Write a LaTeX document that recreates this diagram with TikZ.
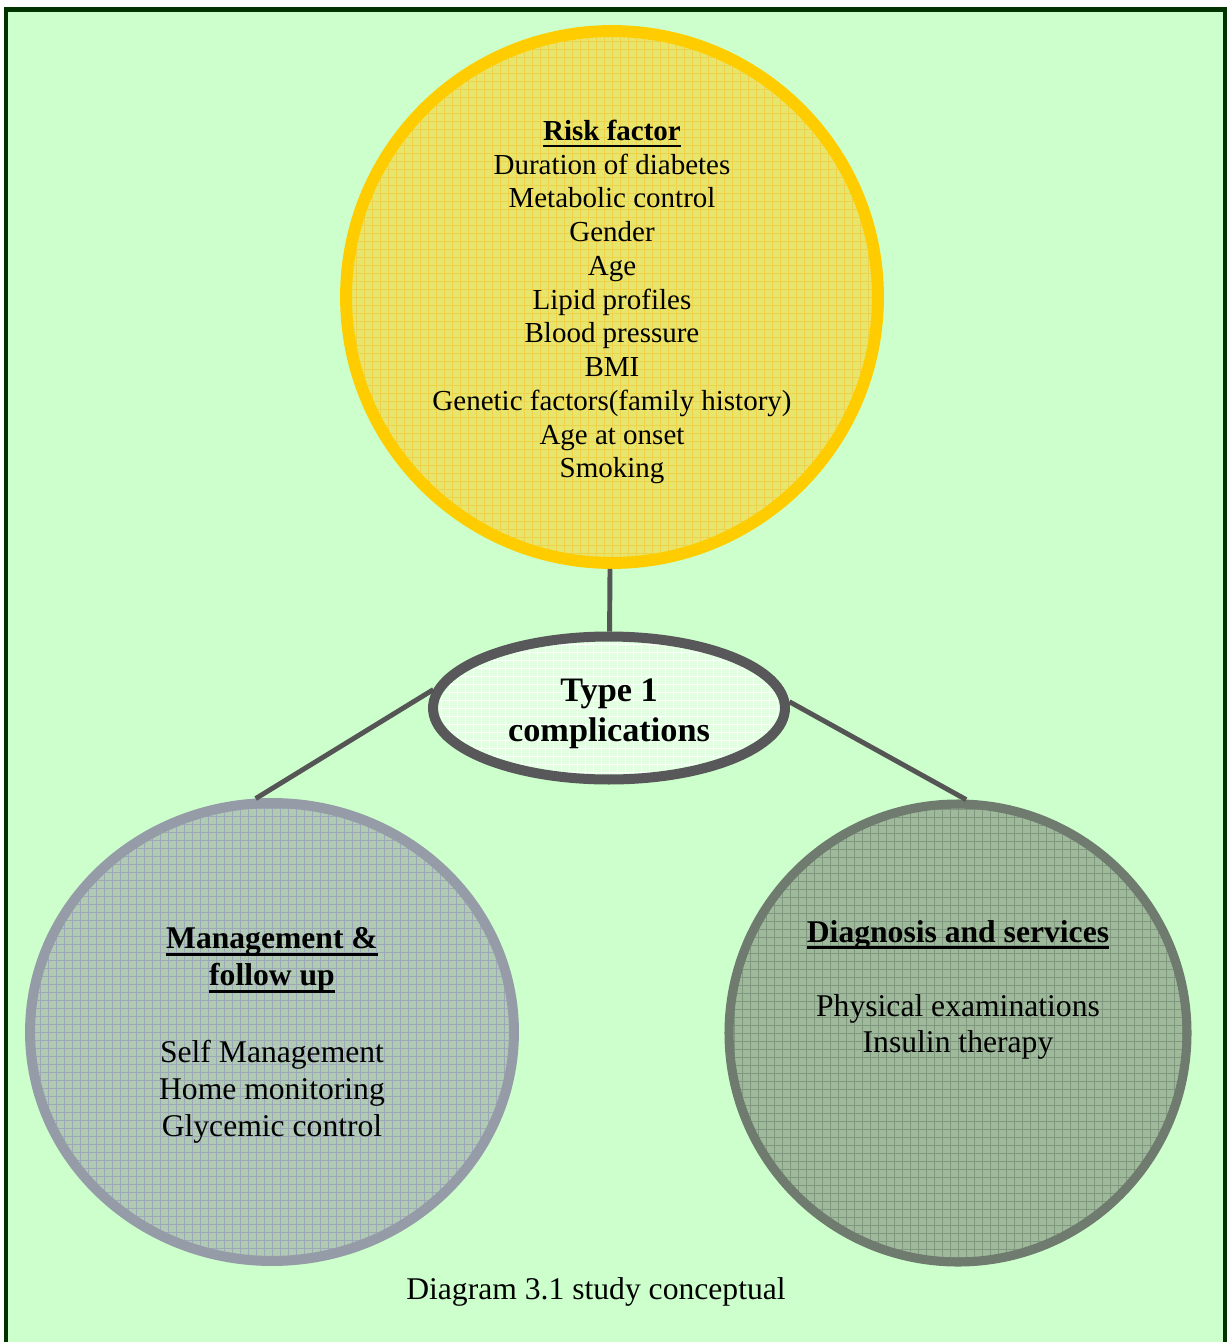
\documentclass[tikz,border=0pt]{standalone}
\usepackage{fontspec}
\setmainfont{Liberation Serif}
\usetikzlibrary{shapes.geometric}

\definecolor{framegreen}{HTML}{003300}
\definecolor{paper}{HTML}{CCFFCC}
\definecolor{riskedge}{HTML}{FFCC00}
\definecolor{riskfill}{HTML}{E6E66E}
\definecolor{riskgrid}{HTML}{F0D24A}
\definecolor{coreedge}{HTML}{58585A}
\definecolor{corefill}{HTML}{E2FFE2}
\definecolor{mgmtedge}{HTML}{969BA8}
\definecolor{mgmtfill}{HTML}{B0CAB4}
\definecolor{mgmtgrid}{HTML}{9CA8B8}
\definecolor{diagedge}{HTML}{6F7B6F}
\definecolor{diagfill}{HTML}{9EBA9A}
\definecolor{diaggrid}{HTML}{809880}
\definecolor{linkgray}{HTML}{555555}

% bold heading with a thick rule under it
\newcommand\undertitle[1]{\setbox0=\hbox{#1}\rlap{\rule[-4pt]{\wd0}{1.6pt}}\box0}

\begin{document}
\begin{tikzpicture}[
    x=0.02cm, y=-0.02cm,
    gridfill/.style 2 args={fill=#1, path picture={\draw[#2, line width=0.5pt, step=0.16cm]
        (path picture bounding box.south west) grid (path picture bounding box.north east);}},
    riskcircle/.style={circle, draw=riskedge, line width=6.8pt, minimum size=10.64cm,
        gridfill={riskfill}{riskgrid}},
    coreoval/.style={ellipse, draw=coreedge, line width=5.7pt, minimum width=7.04cm,
        minimum height=2.86cm, gridfill={corefill}{white}},
    mgmtcircle/.style={ellipse, draw=mgmtedge, line width=5.7pt, minimum width=9.68cm,
        minimum height=9.16cm, gridfill={mgmtfill}{mgmtgrid}},
    diagcircle/.style={circle, draw=diagedge, line width=5.2pt, minimum size=9.16cm,
        gridfill={diagfill}{diaggrid}},
    bodytext/.style={align=center, inner sep=0pt, font=\fontsize{18}{21}\selectfont},
    risktext/.style={bodytext, font=\fontsize{16.5}{19.2}\selectfont},
    coretext/.style={bodytext, font=\fontsize{19.5}{22.7}\selectfont\bfseries},
    link/.style={draw=linkgray, line width=2.8pt}
]
\clip (0,0) rectangle (1227,1342);
\fill[white] (0,0) rectangle (1227,1342);
\draw[framegreen, line width=2.8pt, fill=paper] (6,9.5) rectangle (1225,1400);

% circles
\node[riskcircle] (risk) at (612,297) {};
\node[coreoval] (core) at (609,708) {};
\node[mgmtcircle] (mgmt) at (272,1032) {};
\node[diagcircle] (diag) at (958,1033) {};

% texts
\node[risktext] (riskitems) at (612,302) {\textbf{\undertitle{Risk factor}}\\
    Duration of diabetes\\ Metabolic control\\ Gender\\ Age\\ Lipid profiles\\
    Blood pressure\\ BMI\\ Genetic factors(family history)\\ Age at onset\\ Smoking};
\node[coretext] (coreitems) at (609,714) {Type 1\\complications};
\node[bodytext] (mgmtitems) at (272,1035.5) {\textbf{\undertitle{Management \&}}\\
    \textbf{\undertitle{follow up}}\\[22.7pt]
    Self Management\\ Home monitoring\\ Glycemic control};
\node[bodytext] (diagitems) at (958,990) {\textbf{\undertitle{Diagnosis and services}}\\[21pt]
    Physical examinations\\ Insulin therapy};

\draw[link] (risk) -- (core);
\draw[link] (core.174) -- (mgmt.94);
\draw[link] (core.2) -- (diag.88);

\node[bodytext, anchor=base] (caption) at (596,1299) {Diagram 3.1 study conceptual};
\end{tikzpicture}
\end{document}
